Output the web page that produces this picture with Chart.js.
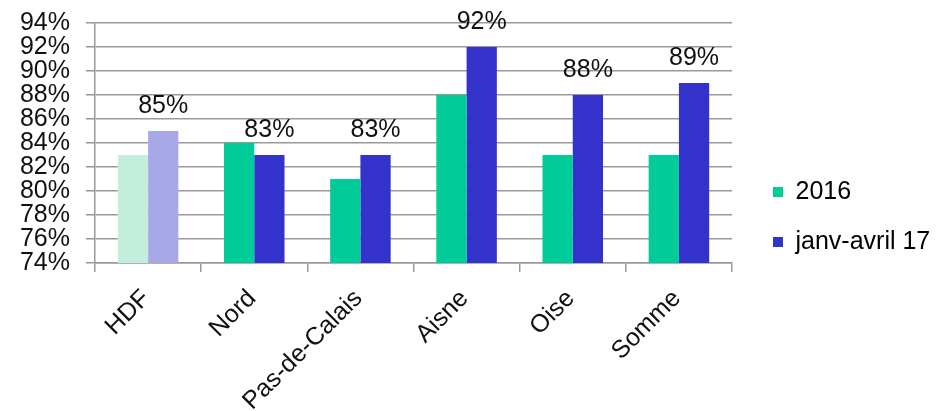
<!DOCTYPE html>
<html>
<head>
<meta charset="utf-8">
<script src="https://cdn.jsdelivr.net/npm/chart.js@4"></script>
<style>
  html, body { margin: 0; padding: 0; background: #fff; }
  #wrap { width: 938px; height: 411px; }
</style>
</head>
<body>
<div id="wrap"><canvas id="barChart"></canvas></div>
<script>
const categories = ["HDF", "Nord", "Pas-de-Calais", "Aisne", "Oise", "Somme"];
const values2016 = [83, 84, 81, 88, 83, 83];
const valuesJanvAvril17 = [85, 83, 83, 92, 88, 89];
const yTicks = [74, 76, 78, 80, 82, 84, 86, 88, 90, 92, 94];

const FONT = "'Liberation Sans', Arial, sans-serif";

// HDF en couleurs claires
const green = categories.map((c, i) => i === 0 ? "#c4eedc" : "#00cc99");
const blue = categories.map((c, i) => i === 0 ? "#a8a8e8" : "#3333cc");

const valueLabels = {
    id: "valueLabels",
    afterDatasetsDraw(chart) {
        const ctx = chart.ctx;
        const meta = chart.getDatasetMeta(1);
        ctx.save();
        ctx.font = "25px " + FONT;
        ctx.fillStyle = "#111";
        ctx.textAlign = "center";
        ctx.textBaseline = "bottom";
        meta.data.forEach((bar, i) => {
            ctx.fillText(valuesJanvAvril17[i] + "%", bar.x, bar.y - 12);
        });
        ctx.restore();
    }
};

const legendFix = {
    id: "legendFix",
    beforeLayout(chart) {
        const lg = chart.legend;
        if (lg && !lg._patched) {
            const fit = lg.fit;
            lg.fit = function () { fit.call(this); this.width = 206; };
            lg._patched = true;
        }
    },
    afterLayout(chart) {
        chart.legend.left += 16;
        chart.legend.right += 16;
    }
};

new Chart(document.getElementById("barChart"), {
    type: 'bar',
    data: {
        labels: categories,
        datasets: [
            {
                label: "2016",
                data: values2016,
                backgroundColor: green
            },
            {
                label: "janv-avril 17",
                data: valuesJanvAvril17,
                backgroundColor: blue
            }
        ]
    },
    options: {
        responsive: true,
        maintainAspectRatio: false,
        animation: false,
        categoryPercentage: 0.57,
        barPercentage: 1,
        layout: { padding: { top: 23, right: 0, bottom: 0, left: 0 } },
        plugins: {
            tooltip: { enabled: false },
            legend: {
                position: 'right',
                labels: {
                    boxWidth: 10,
                    boxHeight: 10,
                    padding: 25,
                    color: "#111",
                    font: { family: FONT, size: 25 },
                    generateLabels(chart) {
                        return chart.data.datasets.map((ds, i) => ({
                            text: ds.label,
                            fillStyle: i === 0 ? "#00cc99" : "#3333cc",
                            strokeStyle: "transparent",
                            lineWidth: 0,
                            datasetIndex: i
                        }));
                    }
                }
            }
        },
        scales: {
            x: {
                afterFit(scale) { scale.height = 148; },
                grid: {
                    drawOnChartArea: false,
                    drawTicks: true,
                    tickLength: 9,
                    color: "#999",
                    lineWidth: 1.5
                },
                border: { color: "#999", width: 1.5 },
                ticks: {
                    minRotation: 45,
                    maxRotation: 45,
                    autoSkip: false,
                    padding: 12,
                    labelOffset: -2,
                    color: "#111",
                    font: { family: FONT, size: 25 }
                }
            },
            y: {
                min: 74,
                max: 94,
                afterFit(scale) {
                    scale.width = 95;
                    scale.paddingTop = 0;
                    scale.paddingBottom = 0;
                },
                afterBuildTicks(scale) { scale.ticks = yTicks.map(v => ({ value: v })); },
                grid: {
                    color: "#999",
                    lineWidth: 1.5,
                    tickLength: 9
                },
                border: { color: "#999", width: 1.5 },
                ticks: {
                    autoSkip: false,
                    padding: 16,
                    color: "#111",
                    font: { family: FONT, size: 25 },
                    callback: v => v + "%"
                }
            }
        }
    },
    plugins: [valueLabels, legendFix]
});
</script>
</body>
</html>
